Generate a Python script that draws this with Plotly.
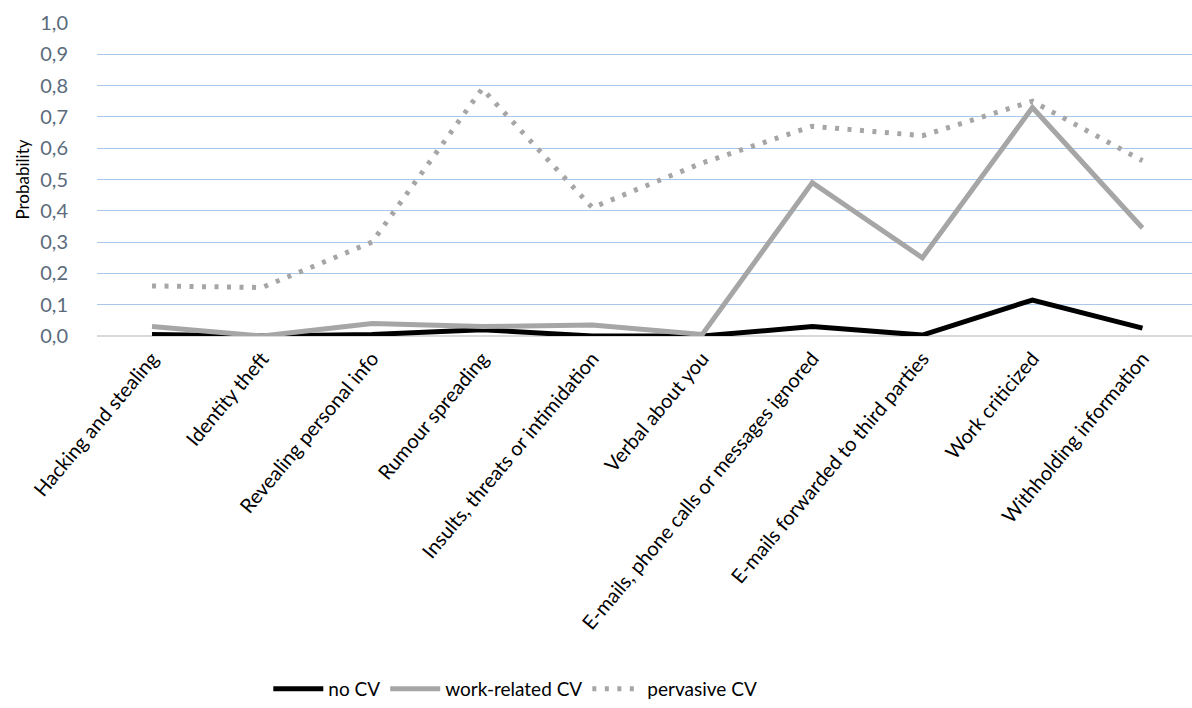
import plotly.graph_objects as go

categories = [
    "Hacking and stealing",
    "Identity theft",
    "Revealing personal info",
    "Rumour spreading",
    "Insults, threats or intimidation",
    "Verbal about you",
    "E-mails, phone calls or messages ignored",
    "E-mails forwarded to third parties",
    "Work criticized",
    "Withholding information",
]

no_cv = [0.005, 0.0, 0.005, 0.02, 0.0, 0.0, 0.03, 0.003, 0.115, 0.025]
work_related_cv = [0.03, 0.0, 0.04, 0.03, 0.035, 0.005, 0.49, 0.25, 0.73, 0.345]
pervasive_cv = [0.16, 0.155, 0.30, 0.79, 0.41, 0.553, 0.67, 0.64, 0.75, 0.56]

y_ticks = [0.0, 0.1, 0.2, 0.3, 0.4, 0.5, 0.6, 0.7, 0.8, 0.9, 1.0]

fig = go.Figure()
fig.add_trace(go.Scatter(
    x=categories, y=no_cv, name="no CV", mode="lines",
    line=dict(color="#000000", width=5),
))
fig.add_trace(go.Scatter(
    x=categories, y=work_related_cv, name="work-related CV", mode="lines",
    line=dict(color="#a6a6a6", width=5),
))
fig.add_trace(go.Scatter(
    x=categories, y=pervasive_cv, name="pervasive CV", mode="lines",
    line=dict(color="#a6a6a6", width=5, dash="4px,8.5px"),
))

fig.update_layout(
    width=1192, height=708,
    margin=dict(l=97, r=0, t=23, b=372),
    paper_bgcolor="white", plot_bgcolor="white",
    separators=", ",
    font=dict(family="Lato, 'Open Sans', sans-serif", color="#000000"),
    showlegend=True,
    legend=dict(
        orientation="h", x=0.382, xanchor="center", y=-1.13, yanchor="middle",
        font=dict(size=19, color="#000000"),
        itemwidth=50,
    ),
    xaxis=dict(
        type="category",
        range=[-0.5, 9.45],
        tickangle=-50,
        tickfont=dict(size=20, color="#000000"),
        ticklabelstandoff=6,
        showgrid=False, showline=False, ticks="",
    ),
    yaxis=dict(
        range=[0, 1.0],
        tickvals=y_ticks,
        tickformat=".1f",
        tickfont=dict(size=20, color="#5b6b7c"),
        ticklabelstandoff=28,
        gridcolor="#a9c7ea", gridwidth=1,
        zeroline=True, zerolinecolor="#d9d9d9", zerolinewidth=1.5,
        showline=False, ticks="",
        title=dict(text="Probability", font=dict(size=17, color="#000000"), standoff=6),
    ),
)

fig.write_html("out.html")
